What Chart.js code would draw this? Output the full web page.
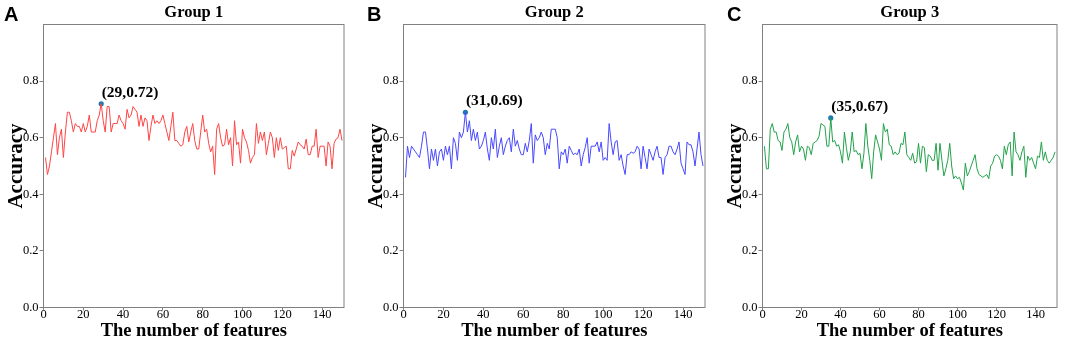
<!DOCTYPE html>
<html lang="en">
<head>
<meta charset="UTF-8">
<title>Accuracy vs number of features</title>
<script src="https://cdn.jsdelivr.net/npm/chart.js"></script>
<style>
  body { margin: 0; background: #fff; }
  .figure { position: relative; width: 1065px; height: 344px; overflow: hidden; }
  .panel { position: absolute; top: 0; width: 355px; height: 344px; }
  .tag { position: absolute; top: 4px; font: bold 20px 'Liberation Sans', Arial, sans-serif; line-height: 20px; color: #000; }
</style>
</head>
<body>
<div class="figure">
  <div class="panel" style="left:0px"><canvas id="chart0"></canvas></div>
  <div class="panel" style="left:360px"><canvas id="chart1"></canvas></div>
  <div class="panel" style="left:719px"><canvas id="chart2"></canvas></div>
  <div class="tag" style="left:4px">A</div>
  <div class="tag" style="left:367px">B</div>
  <div class="tag" style="left:727px">C</div>
</div>
<script>
// panel titles and axis ticks
const groupNames = ['Group 1', 'Group 2', 'Group 3'];
const xTicks = [0, 20, 40, 60, 80, 100, 120, 140];
const yTicks = [0.0, 0.2, 0.4, 0.6, 0.8];

// accuracy for feature counts 1..150
const accGroup1 = [
  0.53, 0.47, 0.50, 0.55, 0.60, 0.65, 0.54, 0.60, 0.63, 0.53,
  0.62, 0.69, 0.69, 0.66, 0.62, 0.65, 0.64, 0.64, 0.62, 0.65,
  0.62, 0.64, 0.68, 0.62, 0.62, 0.62, 0.66, 0.68, 0.72, 0.66,
  0.62, 0.71, 0.71, 0.62, 0.65, 0.65, 0.65, 0.68, 0.66, 0.65,
  0.63, 0.70, 0.67, 0.68, 0.71, 0.70, 0.69, 0.64, 0.68, 0.64,
  0.67, 0.66, 0.59, 0.64, 0.68, 0.65, 0.66, 0.65, 0.66, 0.68,
  0.65, 0.62, 0.59, 0.64, 0.69, 0.59, 0.59, 0.58, 0.57, 0.575,
  0.62, 0.64, 0.585, 0.62, 0.65, 0.59, 0.56, 0.56, 0.62, 0.68,
  0.62, 0.63, 0.58, 0.55, 0.57, 0.47, 0.63, 0.65, 0.60, 0.57,
  0.575, 0.63, 0.575, 0.60, 0.50, 0.66, 0.575, 0.585, 0.51, 0.63,
  0.60, 0.585, 0.555, 0.51, 0.53, 0.54, 0.65, 0.58, 0.62, 0.59,
  0.62, 0.54, 0.58, 0.62, 0.60, 0.53, 0.60, 0.555, 0.60, 0.56,
  0.565, 0.57, 0.49, 0.49, 0.555, 0.535, 0.56, 0.585, 0.575, 0.57,
  0.56, 0.595, 0.54, 0.54, 0.57, 0.57, 0.63, 0.53, 0.57, 0.57,
  0.57, 0.50, 0.585, 0.57, 0.49, 0.58, 0.595, 0.60, 0.63, 0.59
];
const accGroup2 = [
  0.46, 0.57, 0.53, 0.57, 0.56, 0.55, 0.54, 0.53, 0.57, 0.62,
  0.62, 0.56, 0.49, 0.56, 0.52, 0.56, 0.50, 0.55, 0.56, 0.52,
  0.57, 0.54, 0.57, 0.49, 0.60, 0.58, 0.52, 0.62, 0.60, 0.62,
  0.69, 0.62, 0.66, 0.59, 0.63, 0.59, 0.62, 0.56, 0.57, 0.59,
  0.62, 0.56, 0.52, 0.60, 0.56, 0.63, 0.53, 0.57, 0.60, 0.54,
  0.57, 0.59, 0.60, 0.55, 0.63, 0.57, 0.59, 0.56, 0.54, 0.54,
  0.58, 0.55, 0.59, 0.65, 0.51, 0.61, 0.59, 0.60, 0.62, 0.60,
  0.54, 0.58, 0.56, 0.63, 0.63, 0.63, 0.60, 0.49, 0.55, 0.54,
  0.56, 0.51, 0.57, 0.555, 0.54, 0.545, 0.54, 0.56, 0.50, 0.54,
  0.565, 0.60, 0.51, 0.57, 0.57, 0.57, 0.585, 0.55, 0.585, 0.52,
  0.53, 0.52, 0.65, 0.585, 0.54, 0.585, 0.59, 0.52, 0.54, 0.50,
  0.47, 0.54, 0.54, 0.55, 0.545, 0.55, 0.57, 0.56, 0.49, 0.57,
  0.53, 0.49, 0.56, 0.54, 0.52, 0.55, 0.57, 0.53, 0.53, 0.47,
  0.53, 0.54, 0.57, 0.57, 0.55, 0.54, 0.56, 0.585, 0.51, 0.49,
  0.47, 0.585, 0.575, 0.575, 0.55, 0.50, 0.56, 0.62, 0.54, 0.50
];
const accGroup3 = [
  0.57, 0.49, 0.49, 0.63, 0.65, 0.62, 0.62, 0.59, 0.585, 0.555,
  0.62, 0.63, 0.65, 0.60, 0.585, 0.54, 0.585, 0.61, 0.55, 0.57,
  0.56, 0.52, 0.57, 0.565, 0.54, 0.58, 0.585, 0.59, 0.605, 0.65,
  0.645, 0.64, 0.57, 0.57, 0.67, 0.585, 0.59, 0.57, 0.575, 0.55,
  0.51, 0.62, 0.565, 0.52, 0.55, 0.62, 0.55, 0.555, 0.54, 0.545,
  0.49, 0.545, 0.65, 0.57, 0.52, 0.455, 0.55, 0.61, 0.585, 0.56,
  0.52, 0.65, 0.62, 0.63, 0.575, 0.57, 0.54, 0.55, 0.54, 0.545,
  0.58, 0.575, 0.62, 0.54, 0.53, 0.52, 0.545, 0.51, 0.515, 0.58,
  0.51, 0.57, 0.565, 0.48, 0.54, 0.535, 0.52, 0.52, 0.58, 0.485,
  0.58, 0.52, 0.465, 0.49, 0.52, 0.58, 0.50, 0.455, 0.465, 0.455,
  0.46, 0.44, 0.415, 0.51, 0.465, 0.48, 0.50, 0.52, 0.54, 0.49,
  0.47, 0.465, 0.46, 0.465, 0.47, 0.455, 0.50, 0.51, 0.535, 0.54,
  0.535, 0.52, 0.49, 0.57, 0.54, 0.575, 0.585, 0.465, 0.62, 0.55,
  0.54, 0.52, 0.55, 0.57, 0.46, 0.535, 0.52, 0.53, 0.51, 0.49,
  0.535, 0.53, 0.585, 0.52, 0.55, 0.52, 0.51, 0.52, 0.53, 0.55
];
const lineColors = ['#ff4545', '#4848ff', '#22a24a'];
const seriesList = [accGroup1, accGroup2, accGroup3];
const rightPad = [11, 10, 17];

const serif = "'Liberation Serif', 'Times New Roman', serif";

// grey box round the plot area
const framePlugin = {
  id: 'frame',
  afterDraw(chart) {
    const { left, top, right, bottom } = chart.chartArea;
    const ctx = chart.ctx;
    ctx.save();
    ctx.strokeStyle = '#808080';
    ctx.lineWidth = 1;
    ctx.strokeRect(left, top, right - left, bottom - top);
    ctx.restore();
  }
};

// "(x,y)" label next to the best point
const peakLabelPlugin = {
  id: 'peakLabel',
  afterDatasetsDraw(chart) {
    const pt = chart.getDatasetMeta(1).data[0];
    const raw = chart.data.datasets[1].data[0];
    const ctx = chart.ctx;
    ctx.save();
    ctx.font = 'bold 15.5px ' + serif;
    ctx.fillStyle = '#000';
    ctx.textAlign = 'left';
    ctx.textBaseline = 'alphabetic';
    ctx.fillText('(' + raw.x + ',' + raw.y.toFixed(2) + ')', pt.x + 0.5, pt.y - 7);
    ctx.restore();
  }
};

function makeChart(i) {
  const acc = seriesList[i];
  const points = acc.map((v, k) => ({ x: k + 1, y: v }));
  let best = 0;
  acc.forEach((v, k) => { if (v > acc[best]) best = k; });

  new Chart(document.getElementById('chart' + i), {
    type: 'line',
    data: {
      datasets: [{
        data: points,
        borderColor: lineColors[i],
        borderWidth: 1,
        pointRadius: 0,
        tension: 0,
        fill: false
      }, {
        data: [{ x: best + 1, y: acc[best] }],
        showLine: false,
        pointRadius: 2.6,
        pointBackgroundColor: '#1f77b4',
        pointBorderColor: '#1f77b4',
        pointBorderWidth: 0
      }]
    },
    options: {
      responsive: true,
      maintainAspectRatio: false,
      animation: false,
      layout: { padding: { left: 0, right: rightPad[i], top: 0, bottom: 0 } },
      plugins: {
        legend: { display: false },
        tooltip: { enabled: false },
        title: {
          display: true,
          text: groupNames[i],
          fullSize: false,
          color: '#000',
          font: { family: serif, size: 16.5, weight: 'bold' },
          padding: { top: 2.5, bottom: 2.2 }
        }
      },
      scales: {
        x: {
          type: 'linear',
          min: 0,
          max: 151,
          afterFit(scale) { scale.height = 36.5; },
          afterBuildTicks(scale) { scale.ticks = xTicks.map(v => ({ value: v })); },
          border: { display: false },
          grid: { drawOnChartArea: false, drawTicks: true, tickLength: 3, color: '#808080' },
          ticks: { color: '#000', font: { family: serif, size: 12.5 }, padding: -3, maxRotation: 0 },
          title: {
            display: true,
            text: 'The number of features',
            color: '#000',
            font: { family: serif, size: 18.5, weight: 'bold' },
            padding: { top: 0, bottom: 1.5 }
          }
        },
        y: {
          min: 0,
          max: 1.0,
          afterFit(scale) { scale.width = 43.5; },
          afterBuildTicks(scale) { scale.ticks = yTicks.map(v => ({ value: v })); },
          border: { display: false },
          grid: { drawOnChartArea: false, drawTicks: true, tickLength: 4, color: '#808080' },
          ticks: {
            color: '#000',
            font: { family: serif, size: 12.5 },
            padding: 1,
            callback: v => v.toFixed(1)
          },
          title: {
            display: true,
            text: 'Accuracy',
            color: '#000',
            font: { family: serif, size: 21, weight: 'bold' },
            padding: { top: 3.5, bottom: 0 }
          }
        }
      }
    },
    plugins: [framePlugin, peakLabelPlugin]
  });
}

[0, 1, 2].forEach(makeChart);
</script>
</body>
</html>
